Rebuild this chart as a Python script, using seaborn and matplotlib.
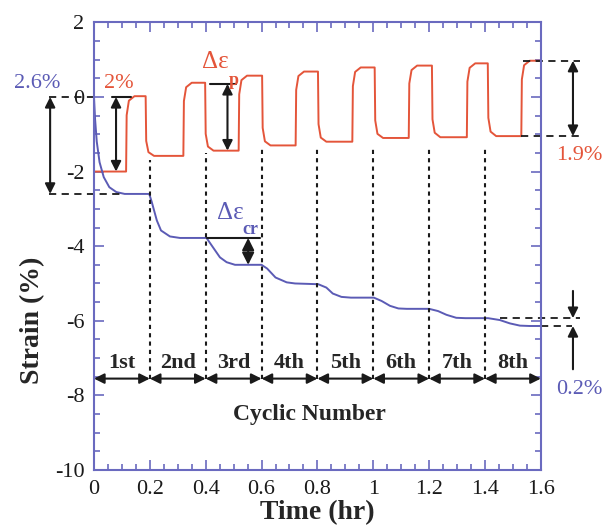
import matplotlib.pyplot as plt
import pandas as pd
import seaborn as sns
from matplotlib.ticker import FuncFormatter, MultipleLocator

# strain during cyclic loading (time in hr, strain in %)
red_t = [0, 0.115, 0.117, 0.125, 0.145, 0.185, 0.187, 0.195, 0.215,
         0.32, 0.322, 0.33, 0.35, 0.398, 0.40, 0.408, 0.428,
         0.518, 0.52, 0.528, 0.548, 0.602, 0.604, 0.612, 0.632,
         0.722, 0.724, 0.732, 0.752, 0.802, 0.804, 0.812, 0.832,
         0.925, 0.927, 0.935, 0.955, 1.005, 1.007, 1.015, 1.035,
         1.127, 1.129, 1.137, 1.157, 1.21, 1.212, 1.22, 1.24,
         1.335, 1.337, 1.345, 1.365, 1.41, 1.412, 1.42, 1.44,
         1.53, 1.532, 1.54, 1.56, 1.6]
red_v = [-2.0, -2.0, -0.49, -0.1, 0.02, 0.02, -1.18, -1.48, -1.58,
         -1.58, -0.11, 0.26, 0.38, 0.38, -0.99, -1.33, -1.44,
         -1.44, 0.07, 0.45, 0.57, 0.57, -0.83, -1.19, -1.3,
         -1.3, 0.19, 0.56, 0.68, 0.68, -0.73, -1.09, -1.2,
         -1.2, 0.29, 0.67, 0.79, 0.79, -0.63, -0.99, -1.1,
         -1.1, 0.36, 0.72, 0.84, 0.84, -0.6, -0.96, -1.08,
         -1.08, 0.41, 0.78, 0.9, 0.9, -0.56, -0.93, -1.05,
         -1.05, 0.47, 0.85, 0.97, 0.97]

blue_t = [0, 0.004, 0.01, 0.02, 0.035, 0.055, 0.08, 0.11,
          0.198, 0.207, 0.225, 0.24, 0.272, 0.308,
          0.403, 0.426, 0.451, 0.475, 0.505,
          0.6, 0.62, 0.65, 0.69, 0.72,
          0.803, 0.832, 0.855, 0.886, 0.92,
          1.002, 1.03, 1.06, 1.09, 1.12,
          1.2, 1.232, 1.262, 1.297, 1.33,
          1.411, 1.453, 1.489, 1.525, 1.56, 1.6]
blue_v = [0, -0.6, -1.2, -1.75, -2.15, -2.42, -2.55, -2.6,
          -2.6, -2.82, -3.31, -3.58, -3.74, -3.78,
          -3.78, -4.03, -4.3, -4.43, -4.5,
          -4.5, -4.6, -4.84, -4.97, -5.0,
          -5.02, -5.11, -5.27, -5.36, -5.38,
          -5.38, -5.47, -5.6, -5.67, -5.68,
          -5.68, -5.74, -5.84, -5.92, -5.93,
          -5.93, -5.98, -6.07, -6.13, -6.14, -6.14]

cycle_edges = [0, 0.2, 0.4, 0.6, 0.8, 1.0, 1.2, 1.4, 1.6]
cycle_names = ["1st", "2nd", "3rd", "4th", "5th", "6th", "7th", "8th"]
divider_tops = [-1.68, -1.5, -1.38, -1.37, -1.37, -1.37, -1.37]

RED = "#e4553a"
BLUE = "#5b5bb5"
SPINE = "#6a6abf"
SERIF = ["Liberation Serif", "DejaVu Serif"]

sns.set_theme(style="ticks")
plt.rcParams["font.family"] = SERIF
plt.rcParams["axes.unicode_minus"] = False

fig = plt.figure(figsize=(6.13, 5.30), dpi=100)
ax = fig.add_axes([0.1533, 0.1132, 0.729, 0.8447])

red_df = pd.DataFrame({"time": red_t, "strain": red_v})
blue_df = pd.DataFrame({"time": blue_t, "strain": blue_v})
sns.lineplot(data=red_df, x="time", y="strain", color=RED, lw=1.4,
             estimator=None, sort=False, ax=ax)
sns.lineplot(data=blue_df, x="time", y="strain", color=BLUE, lw=1.4,
             estimator=None, sort=False, ax=ax)

ax.set_xlim(0, 1.6)
ax.set_ylim(-10, 2)
ax.xaxis.set_major_locator(MultipleLocator(0.2))
ax.xaxis.set_minor_locator(MultipleLocator(0.05))
ax.yaxis.set_major_locator(MultipleLocator(2))
ax.yaxis.set_minor_locator(MultipleLocator(0.5))
ax.xaxis.set_major_formatter(FuncFormatter(lambda v, p: f"{v:g}"))
ax.yaxis.set_major_formatter(FuncFormatter(lambda v, p: f"{v:g}"))
ax.tick_params(which="both", direction="in", top=True, right=True,
               colors=SPINE, labelcolor="k", labelsize=16, width=1.2, pad=7)
ax.tick_params(which="major", length=7)
ax.tick_params(which="minor", length=4)
for s in ax.spines.values():
    s.set_color(SPINE)
    s.set_linewidth(1.5)

ax.set_xlabel("Time (hr)", fontsize=20, fontweight="bold", labelpad=1)
ax.set_ylabel("Strain (%)", fontsize=20, fontweight="bold")
ax.yaxis.set_label_coords(-0.11, 0.335)

# cycle dividers and cycle arrows
y_arrow = -7.55
for x, top in zip(cycle_edges[1:-1], divider_tops):
    ax.plot([x, x], [y_arrow, top], color="k", lw=1.5, ls=(0, (2, 2)))
for i, name in enumerate(cycle_names):
    x0, x1 = cycle_edges[i], cycle_edges[i + 1]
    ax.annotate("", xy=(x1, y_arrow), xytext=(x0, y_arrow),
                arrowprops=dict(arrowstyle="<|-|>", color="k", lw=1.5,
                                mutation_scale=15, shrinkA=0, shrinkB=0),
                annotation_clip=False)
    ax.text((x0 + x1) / 2, -7.14, name, ha="center", va="center",
            fontsize=16, fontweight="bold")
ax.text(0.77, -8.5, "Cyclic Number", ha="center", va="center",
        fontsize=17, fontweight="bold")


def darrow(x, y0, y1, scale=15):
    ax.annotate("", xy=(x, y1), xytext=(x, y0),
                arrowprops=dict(arrowstyle="<|-|>", color="k", lw=1.5,
                                mutation_scale=scale, shrinkA=0, shrinkB=0),
                annotation_clip=False)


def sarrow(x, y0, y1):
    ax.annotate("", xy=(x, y1), xytext=(x, y0),
                arrowprops=dict(arrowstyle="-|>", color="k", lw=1.5,
                                mutation_scale=15, shrinkA=0, shrinkB=0),
                annotation_clip=False)


def dashed(x0, x1, y):
    ax.plot([x0, x1], [y, y], color="k", lw=1.3, ls=(0, (4, 3)), clip_on=False)


# 2.6 % total strain drop at the start
dashed(-0.16, 0.0, 0.0)
dashed(-0.16, 0.105, -2.6)
darrow(-0.157, 0.0, -2.6)
ax.text(-0.204, 0.37, "2.6%", color=BLUE, fontsize=16, ha="center", va="center")

# 2 % first amplitude
ax.plot([0.063, 0.134], [0.0, 0.0], color="k", lw=1.5)
darrow(0.079, 0.0, -2.0)
ax.text(0.09, 0.36, "2%", color=RED, fontsize=16, ha="center", va="center")

# plastic strain range
ax.plot([0.415, 0.51], [0.35, 0.35], color="k", lw=1.5)
darrow(0.478, 0.35, -1.44)
ax.text(0.433, 0.93, "Δε", color=RED, fontsize=18, ha="center", va="center")
ax.text(0.5, 0.45, "p", color=RED, fontsize=13, fontweight="bold",
        ha="center", va="center")

# creep strain increment
ax.plot([0.403, 0.594], [-3.78, -3.78], color="k", lw=1.5)
darrow(0.552, -3.78, -4.5, scale=18)
ax.text(0.487, -3.1, "Δε", color=BLUE, fontsize=18, ha="center", va="center")
ax.text(0.56, -3.55, "cr", color=BLUE, fontsize=13, fontweight="bold",
        ha="center", va="center")

# 1.9 % at the last cycle
dashed(1.535, 1.74, 0.97)
dashed(1.53, 1.735, -1.05)
darrow(1.715, 0.97, -1.05)
ax.text(1.736, -1.56, "1.9%", color=RED, fontsize=16, ha="center", va="center")

# 0.2 % at the last cycle
dashed(1.453, 1.74, -5.93)
dashed(1.6, 1.71, -6.14)
sarrow(1.715, -5.2, -5.93)
sarrow(1.715, -7.3, -6.14)
ax.text(1.736, -7.85, "0.2%", color=BLUE, fontsize=16, ha="center", va="center")

fig.savefig("out.png", dpi=100)
